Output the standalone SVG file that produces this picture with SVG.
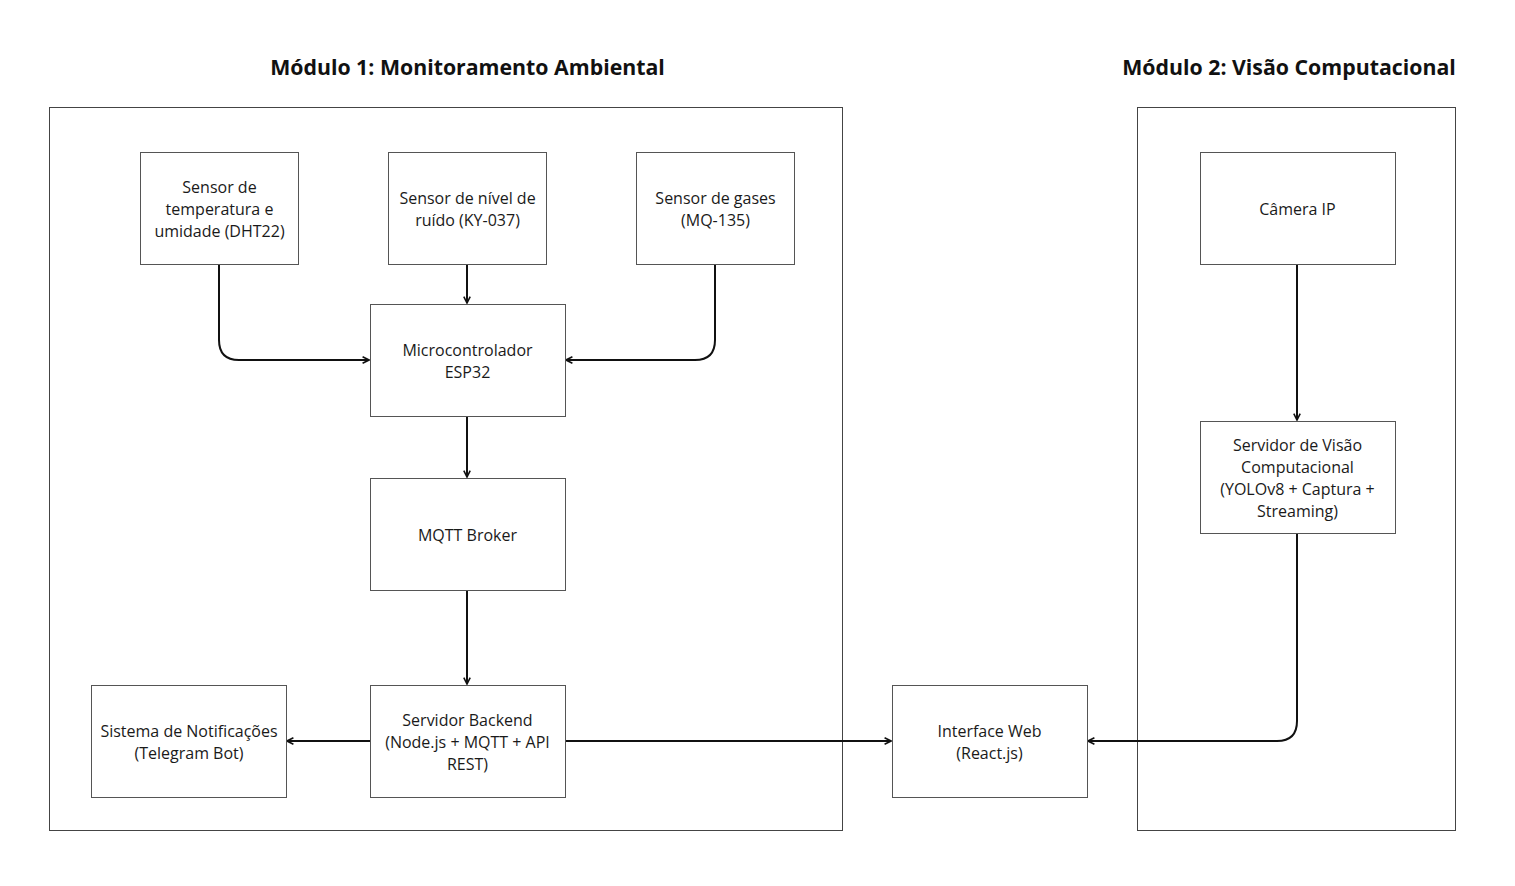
<svg xmlns="http://www.w3.org/2000/svg" width="1515" height="886" viewBox="0 0 1515 886">
<defs>
<style>
.bg{fill:#fff}
.cont{fill:none;stroke:#444;stroke-width:1}
.box{fill:#fff;stroke:#555;stroke-width:1}
.t{font-family:"Open Sans","Liberation Sans",sans-serif;font-size:16px;fill:#1a1a1a;text-anchor:middle}
.title{font-family:"Open Sans","Liberation Sans",sans-serif;font-size:21.3px;font-weight:bold;fill:#111;text-anchor:middle}
.c{fill:none;stroke:#111;stroke-width:2}
</style>
<marker id="arr" viewBox="0 0 10 10" refX="9" refY="5" markerWidth="8" markerHeight="8" markerUnits="userSpaceOnUse" orient="auto">
<path d="M1,1 L9,5 L1,9" fill="none" stroke="#111" stroke-width="2"/>
</marker>
</defs>
<rect class="bg" x="0" y="0" width="1515" height="886"/>
<g id="titles">
<text class="title" x="467.5" y="75">Módulo 1: Monitoramento Ambiental</text>
<text class="title" x="1289" y="75">Módulo 2: Visão Computacional</text>
</g>
<g id="containers">
<rect class="cont" x="49.5" y="107.5" width="793" height="723"/>
<rect class="cont" x="1137.5" y="107.5" width="318" height="723"/>
</g>
<g id="connectors">
<path class="c" d="M219,264 V340 Q219,360 239,360 H369" marker-end="url(#arr)"/>
<path class="c" d="M467,264 V303" marker-end="url(#arr)"/>
<path class="c" d="M715,264 V340 Q715,360 695,360 H566" marker-end="url(#arr)"/>
<path class="c" d="M467,416 V477" marker-end="url(#arr)"/>
<path class="c" d="M467,590 V684" marker-end="url(#arr)"/>
<path class="c" d="M370,741 H287" marker-end="url(#arr)"/>
<path class="c" d="M565,741 H891" marker-end="url(#arr)"/>
<path class="c" d="M1297,264 V420" marker-end="url(#arr)"/>
<path class="c" d="M1297,533 V721 Q1297,741 1277,741 H1088" marker-end="url(#arr)"/>
</g>
<g id="n-dht22">
<rect class="box" x="140.5" y="152.5" width="158" height="112"/>
<text class="t" x="219.5" y="192.5">Sensor de</text>
<text class="t" x="219.5" y="214.5">temperatura e</text>
<text class="t" x="219.5" y="236.5">umidade (DHT22)</text>
</g>
<g id="n-ky037">
<rect class="box" x="388.5" y="152.5" width="158" height="112"/>
<text class="t" x="467.5" y="203.5">Sensor de nível de</text>
<text class="t" x="467.5" y="225.5">ruído (KY-037)</text>
</g>
<g id="n-mq135">
<rect class="box" x="636.5" y="152.5" width="158" height="112"/>
<text class="t" x="715.5" y="203.5">Sensor de gases</text>
<text class="t" x="715.5" y="225.5">(MQ-135)</text>
</g>
<g id="n-esp32">
<rect class="box" x="370.5" y="304.5" width="195" height="112"/>
<text class="t" x="467.5" y="355.5">Microcontrolador</text>
<text class="t" x="467.5" y="377.5">ESP32</text>
</g>
<g id="n-mqtt">
<rect class="box" x="370.5" y="478.5" width="195" height="112"/>
<text class="t" x="467.5" y="540.5">MQTT Broker</text>
</g>
<g id="n-backend">
<rect class="box" x="370.5" y="685.5" width="195" height="112"/>
<text class="t" x="467.5" y="725.5">Servidor Backend</text>
<text class="t" x="467.5" y="747.5">(Node.js + MQTT + API</text>
<text class="t" x="467.5" y="769.5">REST)</text>
</g>
<g id="n-notif">
<rect class="box" x="91.5" y="685.5" width="195" height="112"/>
<text class="t" x="189" y="736.5">Sistema de Notificações</text>
<text class="t" x="189" y="758.5">(Telegram Bot)</text>
</g>
<g id="n-web">
<rect class="box" x="892.5" y="685.5" width="195" height="112"/>
<text class="t" x="989.5" y="736.5">Interface Web</text>
<text class="t" x="989.5" y="758.5">(React.js)</text>
</g>
<g id="n-camera">
<rect class="box" x="1200.5" y="152.5" width="195" height="112"/>
<text class="t" x="1297.5" y="214.5">Câmera IP</text>
</g>
<g id="n-vision">
<rect class="box" x="1200.5" y="421.5" width="195" height="112"/>
<text class="t" x="1297.5" y="450.5">Servidor de Visão</text>
<text class="t" x="1297.5" y="472.5">Computacional</text>
<text class="t" x="1297.5" y="494.5">(YOLOv8 + Captura +</text>
<text class="t" x="1297.5" y="516.5">Streaming)</text>
</g>
</svg>
